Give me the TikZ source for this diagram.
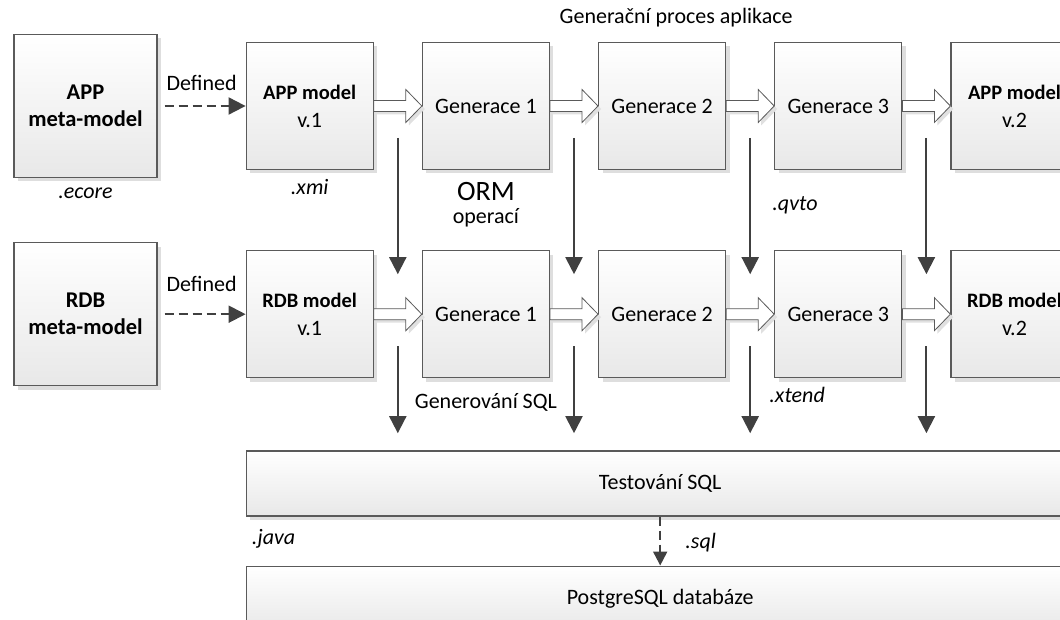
\documentclass[tikz,border=0pt]{standalone}
\usepackage{fontspec}
\setmainfont{Carlito}
\usetikzlibrary{positioning,calc,shadows,arrows.meta}

\definecolor{boxline}{HTML}{5A5A5A}
\definecolor{arrowgray}{HTML}{404040}

\newcommand{\mname}[1]{{\bfseries\fontsize{20.5}{28}\selectfont #1}}

\tikzset{
  box/.style={draw=boxline, line width=1.2pt, top color=white, bottom color=black!9,
    drop shadow={shadow xshift=4pt, shadow yshift=-4pt, fill=black!13, opacity=1},
    align=center, inner sep=0pt, font=\fontsize{22}{28}\selectfont},
  metabox/.style={box, minimum width=143pt, minimum height=143pt,
    font=\bfseries\fontsize{22.5}{27}\selectfont},
  modelbox/.style={box, minimum width=127pt, minimum height=127pt},
  widebox/.style={box, minimum width=828pt, minimum height=65pt},
  fatline/.style={draw=boxline, fill=white, line width=0.8pt,
    drop shadow={shadow xshift=3pt, shadow yshift=-3pt, fill=black!12, opacity=1}},
  down/.style={draw=arrowgray, line width=2pt, -{Triangle[length=17pt,width=17pt]}},
  defd/.style={down, dash pattern=on 9pt off 5pt},
  lbl/.style={inner sep=0pt, font=\fontsize{22}{26}\selectfont},
  ext/.style={lbl, font=\itshape\fontsize{22}{26}\selectfont}
}

% hollow arrow between two boxes of one row
\newcommand{\fatarrow}[2]{%
  \path[fatline] ($(#1.east)+(0,5.5)$) -- ($(#2.west)+(-16,5.5)$)
    -- ($(#2.west)+(-16,16.5)$) -- (#2.west) -- ($(#2.west)+(-16,-16.5)$)
    -- ($(#2.west)+(-16,-5.5)$) -- ($(#1.east)+(0,-5.5)$) -- cycle;}

\begin{document}
\begin{tikzpicture}[x=1pt,y=1pt,node distance=48pt]

\clip (0,0) rectangle (1060,-620);

\node[metabox]  (AMeta) at (85.5,-106) {APP\\meta-model};
\node[modelbox] (AV1) [right=88pt of AMeta] {\mname{APP model}\\v.1};
\node[modelbox] (AG1) [right=of AV1] {Generace 1};
\node[modelbox] (AG2) [right=of AG1] {Generace 2};
\node[modelbox] (AG3) [right=of AG2] {Generace 3};
\node[modelbox] (AV2) [right=of AG3] {\mname{APP model}\\v.2};

\node[metabox]  (RMeta) [below=64pt of AMeta] {RDB\\meta-model};
\node[modelbox] (RV1) [right=88pt of RMeta] {\mname{RDB model}\\v.1};
\node[modelbox] (RG1) [right=of RV1] {Generace 1};
\node[modelbox] (RG2) [right=of RG1] {Generace 2};
\node[modelbox] (RG3) [right=of RG2] {Generace 3};
\node[modelbox] (RV2) [right=of RG3] {\mname{RDB model}\\v.2};

\node[widebox] (Test) [below=72pt of RV1.south west, anchor=north west] {Testování SQL};
\node[widebox] (DB) [below=49pt of Test.south west, anchor=north west] {PostgreSQL databáze};

\fatarrow{AV1}{AG1} \fatarrow{AG1}{AG2} \fatarrow{AG2}{AG3} \fatarrow{AG3}{AV2}
\fatarrow{RV1}{RG1} \fatarrow{RG1}{RG2} \fatarrow{RG2}{RG3} \fatarrow{RG3}{RV2}

\path (AMeta) edge[defd, shorten <=7pt] (AV1)
      (RMeta) edge[defd, shorten <=7pt] (RV1);
\path (Test) edge[defd, -{Triangle[length=14pt,width=14pt]}] (DB);

\foreach \i/\a/\b in {1/V1/G1,2/G1/G2,3/G2/G3,4/G3/V2} {
  \coordinate (up\i) at ($(A\a.east)!0.5!(A\b.west)$);
  \coordinate (lo\i) at ($(R\a.east)!0.5!(R\b.west)$);
  \draw[down] ($(up\i)+(0,-32)$) -- ($(lo\i)+(0,40)$);
  \draw[down] ($(lo\i)+(0,-32)$) -- ($(lo\i)+(0,-119)$);
}

\node[lbl] (title) at ($(AG2.north)+(14,24)$) {Generační proces aplikace};
\node[lbl] (defA) at ($(AMeta.east)!0.5!(AV1.west)+(0,23)$) {Defined};
\node[lbl] (defR) at ($(RMeta.east)!0.5!(RV1.west)+(0,30)$) {Defined};
\node[ext] (ecore) at ($(AMeta.south)+(0,-15)$) {.ecore};
\node[ext] (xmi) at ($(AV1.south)+(0,-17)$) {.xmi};
\node[lbl, font=\fontsize{28}{32}\selectfont] (orm) at ($(AG1.south)+(0,-21)$) {ORM};
\node[lbl] (oper) [below=8pt of orm] {operací};
\node[ext, anchor=west] (qvto) at ($(up3)+(22,-99)$) {.qvto};
\node[lbl] (gsql) at ($(RG1.south)+(0,-24)$) {Generování SQL};
\node[ext, anchor=west] (xtend) at ($(lo3)+(19,-81)$) {.xtend};
\node[ext] (java) at ($(Test.south west)+(28,-22)$) {.java};
\node[ext, anchor=west] (sql) at ($(Test.south)+(25,-26)$) {.sql};

\end{tikzpicture}
\end{document}
